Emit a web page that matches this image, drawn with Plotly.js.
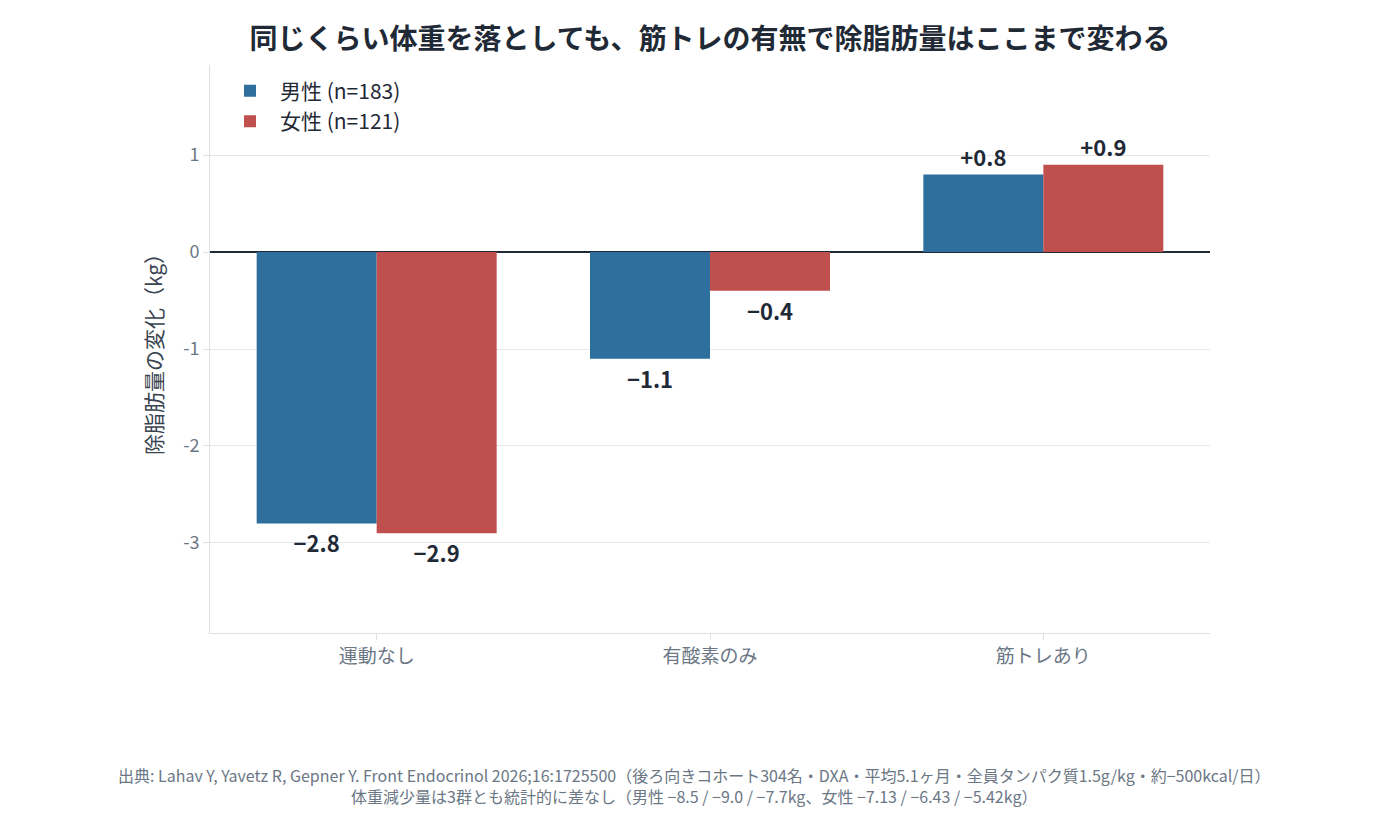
<!DOCTYPE html>
<html>
<head>
<meta charset="utf-8">
<script src="https://cdn.plot.ly/plotly-3.0.1.min.js"></script>
<style>body{margin:0;background:#fff}</style>
</head>
<body>
<div id="chart" style="width:1388px;height:830px"></div>
<script>
const groups = ['運動なし', '有酸素のみ', '筋トレあり'];
const maleValues = [-2.8, -1.1, 0.8];
const femaleValues = [-2.9, -0.4, 0.9];
const maleName = '男性 (n=183)';
const femaleName = '女性 (n=121)';
const yTicks = [-3, -2, -1, 0, 1];

function fmt(v) {
    return (v > 0 ? '+' : '\u2212') + Math.abs(v).toFixed(1);
}

const font = 'Noto Sans CJK JP, Noto Sans, sans-serif';

function series(name, values, color) {
    return {
        x: groups,
        y: values,
        name: name,
        type: 'bar',
        marker: {color: color},
        text: values.map(fmt),
        textposition: 'outside',
        cliponaxis: false,
        textfont: {family: font, size: 22, color: '#1f2a36', weight: 'bold'},
        hoverinfo: 'x+y'
    };
}

const data = [
    series(maleName, maleValues, '#2e6f9e'),
    series(femaleName, femaleValues, '#c0504d')
];

const layout = {
    width: 1388,
    height: 830,
    paper_bgcolor: '#fff',
    plot_bgcolor: '#fff',
    font: {family: font, color: '#6b7785', size: 17},
    margin: {t: 65, r: 178, b: 197, l: 210},
    barmode: 'group',
    bargap: 0.28,
    bargroupgap: 0,
    title: {
        text: '同じくらい体重を落としても、筋トレの有無で除脂肪量はここまで変わる',
        font: {family: font, size: 28, color: '#1f2a36', weight: 'bold'},
        xref: 'paper', x: 0.5, xanchor: 'center', y: 0.965
    },
    legend: {
        x: 0.01, y: 0.99, xanchor: 'left', yanchor: 'top',
        itemwidth: 50,
        font: {family: font, size: 21, color: '#1f2a36'},
        bgcolor: 'rgba(0,0,0,0)'
    },
    xaxis: {
        showline: true, linecolor: '#dde1e6',
        ticks: 'outside', tickcolor: '#dde1e6', ticklen: 6,
        tickfont: {size: 19, color: '#6b7785'}
    },
    yaxis: {
        range: [-3.93, 1.93],
        tickvals: yTicks,
        ticktext: yTicks.map(String),
        showline: true, linecolor: '#dde1e6',
        gridcolor: '#e6e8eb',
        zeroline: true, zerolinecolor: '#1f2a36', zerolinewidth: 2,
        ticks: 'outside', tickcolor: '#dde1e6', ticklen: 6,
        tickfont: {size: 18, color: '#6b7785'},
        title: {text: '除脂肪量の変化（kg）', font: {size: 21, color: '#3a4450'}, standoff: 14}
    },
    annotations: [{
        xref: 'paper', yref: 'paper', x: 0.484, y: -0.225, xanchor: 'center', yanchor: 'top',
        showarrow: false, align: 'center',
        font: {family: font, size: 16, color: '#6b7785'},
        text: '出典: Lahav Y, Yavetz R, Gepner Y. Front Endocrinol 2026;16:1725500（後ろ向きコホート304名・DXA・平均5.1ヶ月・全員タンパク質1.5g/kg・約−500kcal/日）<br>体重減少量は3群とも統計的に差なし（男性 −8.5 / −9.0 / −7.7kg、女性 −7.13 / −6.43 / −5.42kg）'
    }]
};

Plotly.newPlot('chart', data, layout, {displayModeBar: false});
</script>
</body>
</html>
